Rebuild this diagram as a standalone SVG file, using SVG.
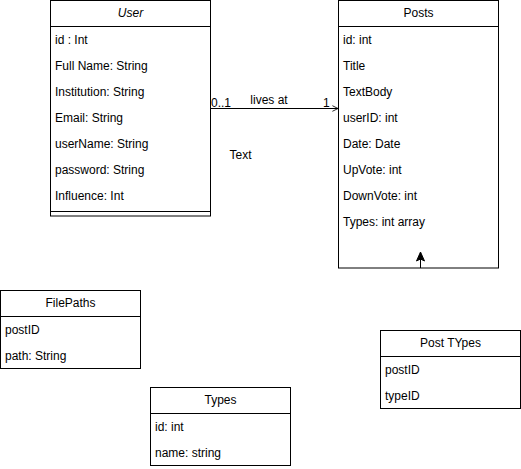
<svg xmlns="http://www.w3.org/2000/svg" width="521" height="469" viewBox="0 0 521 469">
<defs>
<style>
.box{fill:#fff;stroke:#000;stroke-width:1}
.ln{stroke:#000;stroke-width:1;fill:none}
text{font-family:"Liberation Sans",Arial,sans-serif;font-size:12px;fill:#000}
.t{text-anchor:middle}
</style>
<marker id="open" viewBox="0 0 10 10" refX="9" refY="5" markerWidth="7" markerHeight="9" markerUnits="userSpaceOnUse" orient="auto">
<polyline points="1,1 9,5 1,9" fill="none" stroke="#000" stroke-width="1.2"/>
</marker>
</defs>
<rect width="521" height="469" fill="#fff"/>
<g id="user">
<rect class="box" x="50.5" y="0.5" width="160" height="215.5"/>
<line class="ln" x1="50.5" y1="26.5" x2="210.5" y2="26.5"/>
<line class="ln" x1="50.5" y1="211.5" x2="210.5" y2="211.5"/>
<text class="t" x="130.5" y="17" font-style="italic">User</text>
<text x="55" y="44">id : Int</text>
<text x="55" y="70">Full Name: String</text>
<text x="55" y="96">Institution: String</text>
<text x="55" y="122">Email: String</text>
<text x="55" y="148">userName: String</text>
<text x="55" y="174">password: String</text>
<text x="55" y="200">Influence: Int</text>
</g>
<g id="posts">
<rect class="box" x="338.5" y="0.5" width="160" height="267.5"/>
<line class="ln" x1="338.5" y1="26.5" x2="498.5" y2="26.5"/>
<text class="t" x="418.5" y="17">Posts</text>
<text x="343" y="44">id: int</text>
<text x="343" y="70">Title</text>
<text x="343" y="96">TextBody</text>
<text x="343" y="122">userID: int</text>
<text x="343" y="148">Date: Date</text>
<text x="343" y="174">UpVote: int</text>
<text x="343" y="200">DownVote: int</text>
<text x="343" y="226">Types: int array</text>
</g>
<g id="filepaths">
<rect class="box" x="0.5" y="290.5" width="140" height="78"/>
<line class="ln" x1="0.5" y1="316.5" x2="140.5" y2="316.5"/>
<text class="t" x="70.5" y="307">FilePaths</text>
<text x="5" y="334">postID</text>
<text x="5" y="360">path: String</text>
</g>
<g id="types">
<rect class="box" x="150.5" y="387.5" width="140" height="78"/>
<line class="ln" x1="150.5" y1="413.5" x2="290.5" y2="413.5"/>
<text class="t" x="220.5" y="404">Types</text>
<text x="155" y="431">id: int</text>
<text x="155" y="457">name: string</text>
</g>
<g id="posttypes">
<rect class="box" x="380.5" y="330.5" width="140" height="78"/>
<line class="ln" x1="380.5" y1="356.5" x2="520.5" y2="356.5"/>
<text class="t" x="450.5" y="347">Post TYpes</text>
<text x="385" y="374">postID</text>
<text x="385" y="400">typeID</text>
</g>
<g id="connectors">
<line class="ln" x1="210.5" y1="108.5" x2="338" y2="108.5" marker-end="url(#open)"/>
<line class="ln" x1="420.5" y1="268" x2="420.5" y2="258"/>
<polygon points="420.5,252 416.5,261 420.5,259 424.5,261" fill="#000" stroke="#000" stroke-width="1"/>
<text x="211" y="107">0..1</text>
<text class="t" x="269" y="104">lives at</text>
<text x="323" y="107">1</text>
<text class="t" x="240.5" y="159">Text</text>
</g>
</svg>
